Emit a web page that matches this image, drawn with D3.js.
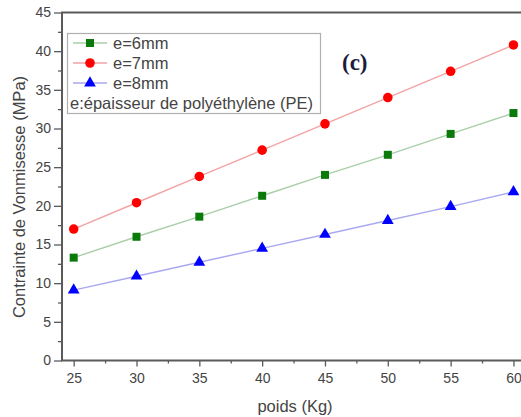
<!DOCTYPE html>
<html>
<head>
<meta charset="utf-8">
<script src="https://cdn.jsdelivr.net/npm/d3@7"></script>
<style>
  html, body { margin: 0; padding: 0; background: #fff; }
  svg { display: block; font-family: "Liberation Sans", Arial, sans-serif; }
</style>
</head>
<body>
<svg id="chart" width="521" height="417"></svg>
<script>
// Load (kg) on the x axis
const poids = [25, 30, 35, 40, 45, 50, 55, 60];
// Von Mises stress (MPa) per PE thickness
const e6mm = [13.3, 16.0, 18.6, 21.3, 24.0, 26.6, 29.3, 32.0];
const e7mm = [17.0, 20.4, 23.8, 27.2, 30.6, 34.0, 37.4, 40.8];
const e8mm = [9.1, 10.9, 12.7, 14.5, 16.3, 18.1, 19.9, 21.8];

const seriesNames = ["e=6mm", "e=7mm", "e=8mm"];
const legendNote = "e:épaisseur de polyéthylène (PE)";
const xTicks = [25, 30, 35, 40, 45, 50, 55, 60];
const xMinor = [27.5, 32.5, 37.5, 42.5, 47.5, 52.5, 57.5];
const yTicks = [0, 5, 10, 15, 20, 25, 30, 35, 40, 45];
const yMinor = [2.5, 7.5, 12.5, 17.5, 22.5, 27.5, 32.5, 37.5, 42.5];

const svg = d3.select("#chart");
const plotL = 62, plotR = 521, plotT = 12.5, plotB = 360.5;

const x = d3.scaleLinear().domain([24.07, 60.6]).range([plotL, plotR]);
const y = d3.scaleLinear().domain([0, 45]).range([plotB, plotT]);

const axisColor = "#5a5a5a";
const textColor = "#444";

// Y axis
const gy = svg.append("g").attr("transform", `translate(${plotL},0)`)
  .call(d3.axisLeft(y).tickValues(yTicks).tickSize(8).tickPadding(3).tickSizeOuter(0));
gy.select(".domain").remove();
gy.selectAll(".tick line").attr("stroke", axisColor).attr("stroke-width", 1.3);
gy.selectAll(".tick text").attr("fill", textColor).style("font-size", "14px");
svg.append("g").attr("transform", `translate(${plotL},0)`)
  .call(d3.axisLeft(y).tickValues(yMinor).tickSize(4).tickFormat(""))
  .call(g => g.select(".domain").remove())
  .selectAll("line").attr("stroke", axisColor).attr("stroke-width", 1.3);

// X axis
const gx = svg.append("g").attr("transform", `translate(0,${plotB})`)
  .call(d3.axisBottom(x).tickValues(xTicks).tickSize(6).tickPadding(7).tickSizeOuter(0));
gx.select(".domain").remove();
gx.selectAll(".tick line").attr("stroke", axisColor).attr("stroke-width", 1.3);
gx.selectAll(".tick text").attr("fill", textColor).style("font-size", "14px");
svg.append("g").attr("transform", `translate(0,${plotB})`)
  .call(d3.axisBottom(x).tickValues(xMinor).tickSize(3).tickFormat(""))
  .call(g => g.select(".domain").remove())
  .selectAll("line").attr("stroke", axisColor).attr("stroke-width", 1.3);

// Frame: left, bottom and top edges
svg.append("path")
  .attr("d", `M${plotR},${plotT}H${plotL}V${plotB}H${plotR}`)
  .attr("fill", "none").attr("stroke", axisColor).attr("stroke-width", 2);

// Series
const series = [
  { name: seriesNames[0], values: e6mm, color: "#0a7a0a", line: "#a9cfa9", shape: d3.symbolSquare, size: 64 },
  { name: seriesNames[1], values: e7mm, color: "#ff0000", line: "#f3a3a3", shape: d3.symbolCircle, size: 72 },
  { name: seriesNames[2], values: e8mm, color: "#0000ff", line: "#a9a9f1", shape: d3.symbolTriangle, size: 60 }
];

const line = d3.line().x((d, i) => x(poids[i])).y(d => y(d));

series.forEach(s => {
  svg.append("path").datum(s.values)
    .attr("d", line).attr("fill", "none")
    .attr("stroke", s.line).attr("stroke-width", 1.4);
  svg.append("g").selectAll("path").data(s.values).join("path")
    .attr("transform", (d, i) => `translate(${x(poids[i])},${y(d)})`)
    .attr("d", d3.symbol().type(s.shape).size(s.size))
    .attr("fill", s.color);
});

// Legend
const lg = svg.append("g");
lg.append("rect").attr("x", 67.5).attr("y", 33.5).attr("width", 253).attr("height", 80)
  .attr("fill", "#fff").attr("stroke", "#b0b0b0").attr("stroke-width", 1.2);
series.forEach((s, i) => {
  const cy = 43 + i * 20;
  lg.append("line").attr("x1", 73).attr("x2", 107).attr("y1", cy).attr("y2", cy)
    .attr("stroke", s.line).attr("stroke-width", 1.4);
  lg.append("path").attr("transform", `translate(90,${cy})`)
    .attr("d", d3.symbol().type(s.shape).size(s.size)).attr("fill", s.color);
  lg.append("text").attr("x", 113).attr("y", cy + 6)
    .attr("fill", textColor).style("font-size", "16.5px").text(s.name);
});
lg.append("text").attr("x", 70).attr("y", 108.5)
  .attr("fill", textColor).style("font-size", "16.5px").text(legendNote);

// Panel tag
svg.append("text").attr("x", 342).attr("y", 70)
  .attr("fill", "#1c1c3c").style("font-family", "'Liberation Serif', 'Times New Roman', serif")
  .style("font-weight", "bold").style("font-size", "23px").text("(c)");

// Axis titles
svg.append("text").attr("x", 295).attr("y", 411.5).attr("text-anchor", "middle")
  .attr("fill", textColor).style("font-size", "16.5px").text("poids (Kg)");
svg.append("text").attr("transform", "translate(24.5,197) rotate(-90)")
  .attr("text-anchor", "middle").attr("fill", textColor).style("font-size", "16.5px")
  .text("Contrainte de Vonmisesse (MPa)");
</script>
</body>
</html>
